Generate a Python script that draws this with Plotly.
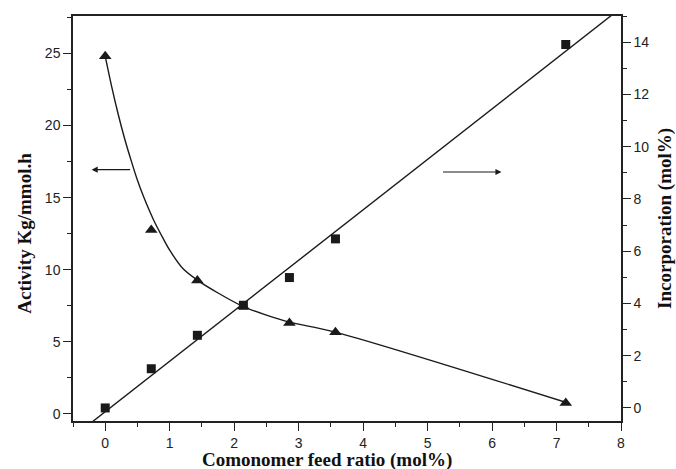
import plotly.graph_objects as go

# Data
feed_ratio = [0.0, 0.714, 1.429, 2.143, 2.857, 3.571, 7.143]
activity = [24.8, 12.75, 9.25, 7.45, 6.3, 5.65, 0.75]        # left axis, triangles
incorporation = [0.0, 1.5, 2.78, 3.93, 4.99, 6.47, 13.91]    # right axis, squares

# Guide curve through the activity points
curve_x = [0.0, 0.1, 0.2, 0.3, 0.4, 0.5, 0.6, 0.75, 0.9, 1.0, 1.2, 1.44, 1.75, 2.14, 2.5, 2.86, 3.57, 7.14]
curve_y = [24.8, 22.7, 20.8, 19.1, 17.6, 16.2, 15.0, 13.45, 12.15, 11.35, 10.1, 9.24, 8.38, 7.44, 6.85, 6.36, 5.67, 0.8]

# Linear fit line for incorporation (endpoints)
fit_x = [-0.5, 8.0]
fit_y = [-1.11, 15.31]

x_ticks = [0, 1, 2, 3, 4, 5, 6, 7, 8]
left_ticks = [0, 5, 10, 15, 20, 25]
right_ticks = [0, 2, 4, 6, 8, 10, 12, 14]

INK = "#1a1a1a"
TICKFONT = dict(family="Liberation Sans, Arial, sans-serif", size=14, color="#222")
TITLEFONT = dict(family="Liberation Serif, Times New Roman, serif", size=19, color="#111")

fig = go.Figure()

fig.add_trace(go.Scatter(x=curve_x, y=curve_y, mode="lines",
                         line=dict(color=INK, width=1.4, shape="spline", smoothing=0.8),
                         yaxis="y", showlegend=False, hoverinfo="skip"))
fig.add_trace(go.Scatter(x=fit_x, y=fit_y, mode="lines",
                         line=dict(color=INK, width=1.4),
                         yaxis="y2", showlegend=False, hoverinfo="skip"))
fig.add_trace(go.Scatter(x=feed_ratio, y=activity, mode="markers",
                         marker=dict(symbol="triangle-up", size=11, color=INK),
                         yaxis="y", showlegend=False, cliponaxis=False))
fig.add_trace(go.Scatter(x=feed_ratio, y=incorporation, mode="markers",
                         marker=dict(symbol="square", size=9, color=INK),
                         yaxis="y2", showlegend=False, cliponaxis=False))

axis_common = dict(showgrid=False, zeroline=False, showline=True, linecolor="#222",
                   linewidth=1.5, ticks="outside", tickcolor="#222", tickwidth=1.3,
                   ticklen=8, tickfont=TICKFONT)

fig.update_layout(
    width=676, height=469,
    margin=dict(l=73, r=55, t=16, b=48),
    paper_bgcolor="white", plot_bgcolor="white",
    xaxis=dict(range=[-0.5, 8], tickvals=x_ticks, mirror=True,
               minor=dict(dtick=0.5, tick0=0, ticklen=4, ticks="outside", tickcolor="#222", showgrid=False),
               **axis_common),
    yaxis=dict(range=[-0.5, 27.6], tickvals=left_ticks,
               minor=dict(dtick=2.5, tick0=0, ticklen=4, ticks="outside", tickcolor="#222", showgrid=False),
               **axis_common),
    yaxis2=dict(range=[-0.5, 15], tickvals=right_ticks, overlaying="y", side="right",
                minor=dict(dtick=1, tick0=0, ticklen=4, ticks="outside", tickcolor="#222", showgrid=False),
                **axis_common),
)

# Axis titles as annotations for exact placement
fig.add_annotation(text="<b>Comonomer feed ratio (mol%)</b>", xref="paper", yref="paper",
                   x=0.4626, y=-0.0963, xanchor="center", yanchor="middle",
                   showarrow=False, font=TITLEFONT, borderpad=0)
fig.add_annotation(text="<b>Activity Kg/mmol.h</b>", xref="paper", yref="paper",
                   x=-0.0876, y=0.465, xanchor="center", yanchor="middle", textangle=-90,
                   showarrow=False, font=TITLEFONT, borderpad=0)
fig.add_annotation(text="<b>Incorporation (mol%)</b>", xref="paper", yref="paper",
                   x=1.0803, y=0.499, xanchor="center", yanchor="middle", textangle=-90,
                   showarrow=False, font=TITLEFONT, borderpad=0)

# Arrows pointing to each axis
fig.add_annotation(x=-0.211, y=16.94, ax=0.409, ay=16.94, xref="x", yref="y",
                   axref="x", ayref="y", text="", showarrow=True,
                   arrowhead=2, arrowsize=1.1, arrowwidth=1.1, arrowcolor=INK)
fig.add_annotation(x=6.146, y=16.78, ax=5.215, ay=16.78, xref="x", yref="y",
                   axref="x", ayref="y", text="", showarrow=True,
                   arrowhead=2, arrowsize=1.1, arrowwidth=1.1, arrowcolor=INK)

fig.write_html("out.html")
